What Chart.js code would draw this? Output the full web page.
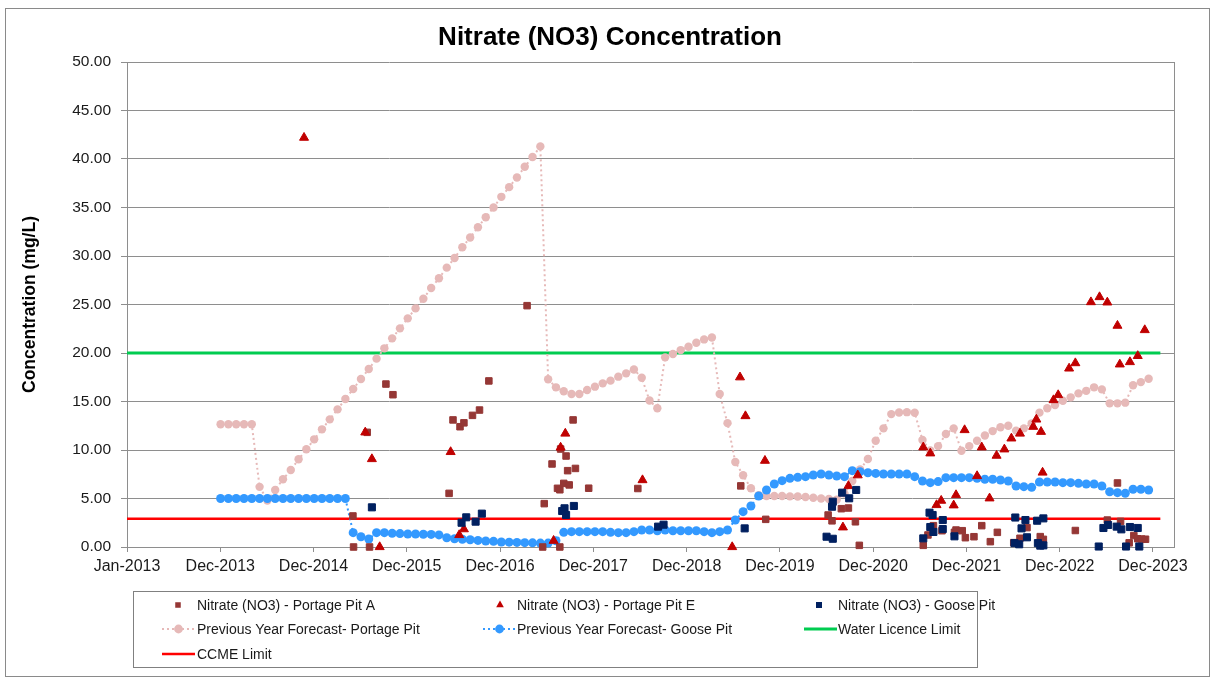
<!DOCTYPE html>
<html>
<head>
<meta charset="utf-8">
<script src="https://cdn.jsdelivr.net/npm/chart.js"></script>
<style>
html,body{margin:0;padding:0;background:#fff;}
#wrap{position:relative;width:1215px;height:680px;}
canvas{display:block;}
</style>
</head>
<body>
<div id="wrap"><canvas id="c" width="1215" height="680"></canvas></div>
<script>
// ---------------- DATA ----------------
const TITLE = 'Nitrate (NO3) Concentration';
const Y_TITLE = 'Concentration (mg/L)';
// x values are months since Jan-2013
const X_TICK_LABELS = ['Jan-2013','Dec-2013','Dec-2014','Dec-2015','Dec-2016','Dec-2017',
  'Dec-2018','Dec-2019','Dec-2020','Dec-2021','Dec-2022','Dec-2023'];
const X_TICK_STEP = 364 / 30.4375;   // axis major unit (364 days) in months
const X_MAX = 134.25;

const SERIES_NAMES = [
  'Nitrate (NO3) - Portage Pit A',
  'Nitrate (NO3) - Portage Pit E',
  'Nitrate (NO3) - Goose Pit',
  'Previous Year Forecast- Portage Pit',
  'Previous Year Forecast- Goose Pit',
  'Water Licence Limit',
  'CCME Limit'
];

const PIT_A_MONTH = [28.97,29.05,30.8,31.1,33.2,34.1,41.3,41.8,42.7,43.2,44.3,45.2,46.4,51.3,
  53.3,53.5,54.5,55.2,55.5,55.5,55.6,56.0,56.3,56.5,56.7,57.2,57.5,59.2,65.5,78.7,81.9,
  89.9,90.4,91.6,92.5,93.4,93.9,102.1,102.7,103.4,104.5,106.1,106.3,107.1,107.5,108.6,109.6,
  110.7,111.6,113.7,114.5,115.4,117.1,117.5,121.6,125.7,127.0,127.4,128.5,129.1,129.6,130.1,130.6];
const PIT_A_NO3 = [3.2,0.0,11.82,0.0,16.8,15.7,5.53,13.1,12.4,12.8,13.57,14.12,17.12,24.88,
  0.0,4.47,8.56,6.05,0.0,5.9,10.1,6.56,9.38,7.87,6.4,13.1,8.1,6.06,6.03,6.3,2.85,
  3.3,2.7,3.95,4.02,2.6,0.17,0.17,1.24,2.2,1.68,1.51,1.75,1.68,0.96,1.06,2.2,
  0.55,1.51,0.45,0.9,2.0,1.07,0.79,1.7,2.78,6.6,2.64,0.43,1.18,0.85,0.82,0.8];

const PIT_E_MONTH = [22.7,30.55,31.4,32.4,41.5,42.6,43.2,54.7,55.6,56.2,66.1,77.6,78.6,79.3,81.8,
  91.8,92.5,93.7,102.1,103.0,103.8,104.4,106.0,106.3,107.4,109.0,109.6,110.6,111.5,112.5,113.4,
  114.5,116.2,116.6,117.2,117.4,118.8,119.4,120.8,121.6,123.6,124.7,125.7,127.0,127.3,128.6,129.6,130.5];
const PIT_E_NO3 = [42.2,11.82,9.07,0.0,9.8,1.24,1.84,0.65,10.26,11.7,6.9,0.0,17.5,13.5,8.9,
  2.03,6.29,7.4,10.28,9.66,4.33,4.78,4.3,5.36,12.06,7.32,10.28,5.02,9.42,10.07,11.2,
  11.7,12.4,13.15,11.88,7.68,15.15,15.67,18.41,18.96,25.25,25.77,25.22,22.82,18.83,19.07,19.7,22.37];

const GOOSE_MONTH = [31.4,42.9,43.5,44.7,45.5,55.8,56.1,56.3,57.3,68.1,68.8,79.2,89.7,90.5,90.5,90.4,
  91.7,92.6,93.5,102.1,102.9,103.3,103.0,103.4,104.6,104.6,106.1,113.9,115.2,114.7,115.4,113.8,114.4,
  116.7,117.5,116.8,117.1,117.5,124.6,125.2,125.8,126.9,127.5,128.1,128.6,129.6,129.8];
const GOOSE_NO3 = [4.09,2.5,3.06,2.61,3.44,3.71,3.99,3.3,4.23,2.1,2.3,1.92,1.06,0.85,4.67,4.15,
  5.6,5.02,5.88,0.89,3.54,3.3,2.06,1.55,2.78,1.85,1.1,3.04,2.78,1.92,1.0,0.4,0.28,
  2.71,2.95,0.4,0.14,0.17,0.05,1.96,2.27,2.1,1.82,0.05,2.06,1.96,0.05];

// monthly forecasts, first value = Jan-2014 (month 12)
const FORECAST_START = 12;
const PORTAGE_FORECAST = [12.65,12.65,12.65,12.65,12.65,6.2,4.8,5.88,6.98,7.94,
  9.04,10.07,11.1,12.13,13.16,14.19,15.26,16.29,17.32,18.35,
  19.42,20.48,21.51,22.54,23.57,24.6,25.6,26.7,27.7,28.8,
  29.8,30.9,31.9,32.96,33.99,35.0,36.1,37.1,38.1,39.2,
  40.2,41.3,17.3,16.46,16.05,15.77,15.77,16.19,16.53,16.87,
  17.15,17.56,17.9,18.3,17.45,15.1,14.3,19.55,19.9,20.3,
  20.65,21.06,21.4,21.6,15.77,12.77,8.76,7.39,6.06,5.33,
  5.26,5.26,5.26,5.22,5.2,5.15,5.07,5.0,4.95,4.88,
  5.5,6.8,8.0,9.07,10.96,12.23,13.7,13.87,13.9,13.84,
  11.03,9.95,10.4,11.65,12.23,9.93,10.4,10.95,11.5,11.95,
  12.35,12.5,12.0,12.23,12.75,13.85,14.3,14.64,15.08,15.43,
  15.84,16.1,16.46,16.25,14.81,14.81,14.88,16.67,17.0,17.35];
const GOOSE_FORECAST = [5,5,5,5,5,5,5,5,5,5,
  5,5,5,5,5,5,5,1.48,1.06,0.82,
  1.48,1.48,1.41,1.38,1.34,1.34,1.32,1.3,1.25,0.95,
  0.85,0.8,0.75,0.68,0.62,0.58,0.52,0.5,0.47,0.45,
  0.43,0.4,0.4,0.65,1.51,1.58,1.58,1.58,1.58,1.58,
  1.51,1.48,1.48,1.58,1.75,1.75,1.68,1.75,1.68,1.68,
  1.68,1.68,1.58,1.48,1.58,1.75,2.78,3.64,4.23,5.26,
  5.88,6.49,6.84,7.08,7.18,7.25,7.42,7.53,7.42,7.32,
  7.25,7.87,7.77,7.66,7.59,7.53,7.53,7.53,7.53,7.25,
  6.8,6.63,6.74,7.15,7.15,7.15,7.15,7.08,6.98,6.98,
  6.91,6.8,6.29,6.22,6.15,6.7,6.7,6.7,6.63,6.63,
  6.56,6.49,6.49,6.29,5.7,5.6,5.53,5.95,5.95,5.88];

const LIMIT_MONTHS = [0, 132.5];
const WATER_LICENCE_LIMIT = 20;
const CCME_LIMIT = 2.9;

// ---------------- BUILD ----------------
const pts = (xs, ys) => xs.map((x, i) => ({x: x, y: ys[i]}));
const monthly = (arr) => arr.map((v, i) => ({x: FORECAST_START + i, y: v}));
const flat = (v) => LIMIT_MONTHS.map(x => ({x: x, y: v}));

const datasets = [
  {label: SERIES_NAMES[0], data: pts(PIT_A_MONTH, PIT_A_NO3), showLine: false,
   pointStyle: 'rect', pointRadius: 4.6, backgroundColor: '#953735', borderColor: '#953735',
   pointBorderWidth: 1, order: 2, clip: false},
  {label: SERIES_NAMES[1], data: pts(PIT_E_MONTH, PIT_E_NO3), showLine: false,
   pointStyle: 'triangle', pointRadius: 5.2, backgroundColor: '#C00000', borderColor: '#C00000',
   pointBorderWidth: 1, order: 1, clip: false},
  {label: SERIES_NAMES[2], data: pts(GOOSE_MONTH, GOOSE_NO3), showLine: false,
   pointStyle: 'rect', pointRadius: 5.0, backgroundColor: '#002060', borderColor: '#002060',
   pointBorderWidth: 1, order: 0, clip: false},
  {label: SERIES_NAMES[3], data: monthly(PORTAGE_FORECAST), showLine: true,
   borderColor: '#E6B9B8', backgroundColor: '#E6B9B8', borderWidth: 2, borderDash: [2, 3],
   pointStyle: 'circle', pointRadius: 4.2, pointBorderWidth: 0, order: 4, clip: false},
  {label: SERIES_NAMES[4], data: monthly(GOOSE_FORECAST), showLine: true,
   borderColor: '#3399FF', backgroundColor: '#3399FF', borderWidth: 2, borderDash: [2, 3],
   pointStyle: 'circle', pointRadius: 4.5, pointBorderWidth: 0, order: 3, clip: false},
  {label: SERIES_NAMES[5], data: flat(WATER_LICENCE_LIMIT), showLine: true,
   borderColor: '#00CC50', backgroundColor: '#00CC50', borderWidth: 3, pointRadius: 0, order: 5},
  {label: SERIES_NAMES[6], data: flat(CCME_LIMIT), showLine: true,
   borderColor: '#FF0000', backgroundColor: '#FF0000', borderWidth: 2.5, pointRadius: 0, order: 6}
];

function drawMarker(ctx, style, x, y, r, color) {
  ctx.fillStyle = color;
  ctx.beginPath();
  if (style === 'rect') {
    const s = r * Math.SQRT1_2;
    ctx.rect(x - s, y - s, 2 * s, 2 * s);
  } else if (style === 'triangle') {
    ctx.moveTo(x, y - r);
    ctx.lineTo(x + r * 0.866, y + r * 0.5);
    ctx.lineTo(x - r * 0.866, y + r * 0.5);
    ctx.closePath();
  } else {
    ctx.arc(x, y, r, 0, Math.PI * 2);
  }
  ctx.fill();
}

const decorPlugin = {
  id: 'decor',
  afterDraw(chart) {
    const ctx = chart.ctx;
    const ca = chart.chartArea;
    ctx.save();
    // plot right border
    ctx.strokeStyle = '#8E8E8E';
    ctx.lineWidth = 1;
    ctx.beginPath();
    ctx.moveTo(Math.round(ca.right) + 0.5, ca.top);
    ctx.lineTo(Math.round(ca.right) + 0.5, ca.bottom);
    ctx.stroke();
    // outer frame
    ctx.strokeStyle = '#8A8A8A';
    ctx.strokeRect(5.5, 8.5, 1204, 668);
    // title
    ctx.fillStyle = '#000';
    ctx.font = 'bold 26px "Liberation Sans", Arial, sans-serif';
    ctx.textAlign = 'center';
    ctx.textBaseline = 'middle';
    ctx.fillText(TITLE, 610, 38);
    // legend
    ctx.strokeStyle = '#808080';
    ctx.lineWidth = 1;
    ctx.strokeRect(133.5, 591.5, 844, 76);
    const cols = [{mx: 178, lx0: 162, lx1: 195, tx: 197},
                  {mx: 500, lx0: 483, lx1: 516, tx: 517},
                  {mx: 819, lx0: 804, lx1: 837, tx: 838}];
    const rows = [605, 629, 654];
    ctx.font = '14px "Liberation Sans", Arial, sans-serif';
    ctx.textAlign = 'left';
    chart.data.datasets.forEach((ds, i) => {
      const c = cols[i % 3];
      const y = rows[Math.floor(i / 3)];
      if (ds.showLine) {
        ctx.save();
        ctx.strokeStyle = ds.borderColor;
        ctx.lineWidth = ds.borderWidth;
        ctx.setLineDash(ds.borderDash || []);
        ctx.beginPath();
        ctx.moveTo(c.lx0, y);
        ctx.lineTo(c.lx1, y);
        ctx.stroke();
        ctx.restore();
      }
      if (ds.pointRadius > 0) {
        const mx = ds.showLine ? (c.lx0 + c.lx1) / 2 : c.mx;
        const r = ds.pointStyle === 'circle' ? 4.4 : ds.pointRadius * 0.85;
        drawMarker(ctx, ds.pointStyle, mx, y, r, ds.backgroundColor);
      }
      ctx.fillStyle = '#1a1a1a';
      ctx.fillText(ds.label, c.tx, y + 1);
    });
    ctx.restore();
  }
};

new Chart(document.getElementById('c'), {
  type: 'scatter',
  data: {datasets: datasets},
  plugins: [decorPlugin],
  options: {
    responsive: false,
    animation: false,
    devicePixelRatio: 1,
    layout: {padding: {top: 62, right: 41, bottom: 100, left: 0}},
    plugins: {legend: {display: false}, title: {display: false}, tooltip: {enabled: false}},
    scales: {
      x: {
        type: 'linear', min: 0, max: X_MAX,
        afterFit: (s) => { s.height = 33; },
        afterBuildTicks: (s) => { s.ticks = X_TICK_LABELS.map((l, i) => ({value: i * X_TICK_STEP})); },
        ticks: {
          autoSkip: false, maxRotation: 0, padding: 5, color: '#1a1a1a',
          font: {family: '"Liberation Sans", Arial, sans-serif', size: 16},
          callback: (v, i) => X_TICK_LABELS[i]
        },
        grid: {drawOnChartArea: false, drawTicks: true, tickLength: 5, color: '#8E8E8E'},
        border: {display: true, color: '#8E8E8E', width: 1}
      },
      y: {
        min: 0, max: 50,
        afterFit: (s) => { s.width = 127; },
        ticks: {
          stepSize: 5, padding: 10, color: '#1a1a1a',
          font: {family: '"Liberation Sans", Arial, sans-serif', size: 15.5},
          callback: (v) => v.toFixed(2)
        },
        grid: {color: '#8E8E8E', lineWidth: 1, drawTicks: true, tickLength: 6},
        border: {display: true, color: '#8E8E8E', width: 1},
        title: {
          display: true, text: Y_TITLE, color: '#000',
          font: {family: '"Liberation Sans", Arial, sans-serif', size: 17.5, weight: 'bold'},
          padding: {top: 20, bottom: 0}
        }
      }
    }
  }
});
</script>
</body>
</html>
